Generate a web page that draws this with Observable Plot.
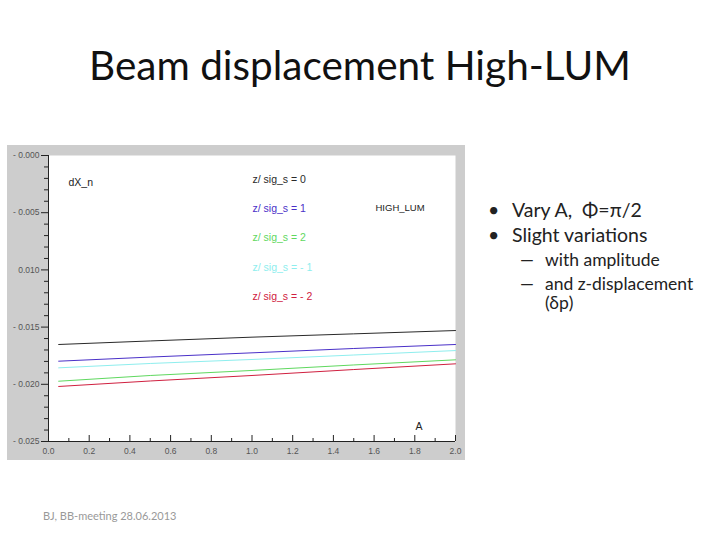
<!DOCTYPE html>
<html>
<head>
<meta charset="utf-8">
<script src="https://cdn.jsdelivr.net/npm/d3@7"></script>
<script src="https://cdn.jsdelivr.net/npm/@observablehq/plot@0.6"></script>
<style>
  html, body { margin: 0; padding: 0; background: #fff; }
  #page { position: relative; width: 720px; height: 540px; overflow: hidden; font-family: Lato, "Open Sans", sans-serif; }
  #title { position: absolute; left: 0; width: 720px; top: 40px; text-align: center; font-size: 40.5px; color: #111; }
  #chart { position: absolute; left: 7px; top: 145px; }
  #bullets { position: absolute; left: 488px; top: 198px; color: #222; }
  .b1 { position: absolute; font-size: 19.5px; white-space: nowrap; }
  .b2 { position: absolute; font-size: 17.5px; white-space: nowrap; }
  #footer { position: absolute; left: 43px; top: 509px; font-size: 11px; color: #999; font-family: Lato, sans-serif; }
</style>
</head>
<body>
<div id="page">
  <div id="title">Beam displacement High-LUM</div>
  <div id="chart"></div>
  <div id="bullets">
    <div class="b1" style="left:0;top:0">•</div><div class="b1" style="left:24px;top:0">Vary A,&nbsp; Φ=π/2</div>
    <div class="b1" style="left:0;top:25px">•</div><div class="b1" style="left:24px;top:25px">Slight variations</div>
    <div class="b2" style="left:32px;top:51px">—</div><div class="b2" style="left:57px;top:51px">with amplitude</div>
    <div class="b2" style="left:32px;top:75px">—</div><div class="b2" style="left:57px;top:75px">and z-displacement</div>
    <div class="b2" style="left:57px;top:94px">(δp)</div>
  </div>
  <div id="footer">BJ, BB-meeting 28.06.2013</div>
</div>
<script>
// ---- data ----
const seriesNames = ["z/ sig_s = 0", "z/ sig_s = 1", "z/ sig_s = 2", "z/ sig_s = - 1", "z/ sig_s = - 2"];
const seriesColors = ["#2a2a2a", "#4a30c8", "#5fd85f", "#8eeeee", "#d02040"];
const ampA = [0.05, 0.5, 1.0, 1.5, 2.0];
const dx0  = [-0.01652, -0.01621, -0.01588, -0.01559, -0.01530];
const dx1  = [-0.01798, -0.01762, -0.01725, -0.01687, -0.01652];
const dx2  = [-0.01973, -0.01923, -0.01879, -0.01831, -0.01786];
const dxm1 = [-0.01856, -0.01818, -0.01783, -0.01744, -0.01705];
const dxm2 = [-0.02019, -0.01971, -0.01923, -0.01871, -0.01821];
const xTickValues = [0, 0.2, 0.4, 0.6, 0.8, 1.0, 1.2, 1.4, 1.6, 1.8, 2.0];
const xTickLabels = ["0.0", "0.2", "0.4", "0.6", "0.8", "1.0", "1.2", "1.4", "1.6", "1.8", "2.0"];
const xMinorValues = [0.1, 0.3, 0.5, 0.7, 0.9, 1.1, 1.3, 1.5, 1.7, 1.9];
const yTickValues = [0, -0.005, -0.010, -0.015, -0.020, -0.025];
const yTickLabels = ["- 0.000", "- 0.005", "0.010", "- 0.015", "- 0.020", "- 0.025"];
const yMinorValues = [-0.001, -0.002, -0.003, -0.004, -0.006, -0.007, -0.008, -0.009,
  -0.011, -0.012, -0.013, -0.014, -0.016, -0.017, -0.018, -0.019, -0.021, -0.022, -0.023, -0.024];

const seriesValues = [dx0, dx1, dx2, dxm1, dxm2];
const rows = [];
seriesNames.forEach((s, i) => ampA.forEach((a, j) => rows.push({series: s, A: a, v: seriesValues[i][j]})));

const W = 458, H = 315;
const mL = 41, mR = 10, mT = 10, mB = 19;
const innerH = H - mT - mB;
const font = "Liberation Sans, Arial, sans-serif";

const chart = Plot.plot({
  width: W, height: H,
  marginLeft: mL, marginRight: mR, marginTop: mT, marginBottom: mB,
  style: {background: "#cdcdcd", fontFamily: font, overflow: "visible"},
  x: {domain: [0, 2], axis: null},
  y: {domain: [-0.025, 0], axis: null},
  color: {domain: seriesNames, range: seriesColors},
  marks: [
    Plot.frame({fill: "white", stroke: null}),
    // y axis (ticks outward)
    Plot.axisY(yTickValues, {anchor: "left", tickSize: 7, tickPadding: 2, stroke: "#222",
      tickFormat: (d) => yTickLabels[yTickValues.indexOf(d)], fontSize: 8.5, fill: "#555", label: null}),
    Plot.axisY(yMinorValues, {anchor: "left", tickSize: 4, stroke: "#222", tickFormat: () => "", label: null}),
    // x axis ticks (inward)
    Plot.tickX(xTickValues, {x: d => d, insetTop: innerH - 6, stroke: "#222"}),
    Plot.tickX(xMinorValues, {x: d => d, insetTop: innerH - 3, stroke: "#222"}),
    Plot.text(xTickValues, {x: d => d, frameAnchor: "bottom", dy: 12, text: (d, i) => xTickLabels[i],
      fontSize: 8.5, fill: "#555"}),
    Plot.ruleX([0], {stroke: "#222"}),
    Plot.ruleY([-0.025], {stroke: "#222"}),
    // curves
    Plot.line(rows, {x: "A", y: "v", z: "series", stroke: "series", strokeWidth: 1}),
    // annotations
    Plot.text(["dX_n"], {frameAnchor: "top-left", dx: 20, dy: 23, fontSize: 10.5, fill: "#222", textAnchor: "start"}),
    ...seriesNames.map((s, i) => Plot.text([s], {frameAnchor: "top-left", dx: 204, dy: 20 + i * 29.2,
      fill: seriesColors[i], fontSize: 10.5, fontWeight: "normal", textAnchor: "start"})),
    Plot.text(["HIGH_LUM"], {frameAnchor: "top-left", dx: 327, dy: 49, fontSize: 9.5, fill: "#222", textAnchor: "start"}),
    Plot.text(["A"], {frameAnchor: "top-left", dx: 367, dy: 267, fontSize: 10.5, fill: "#222", textAnchor: "start"})
  ]
});
document.getElementById("chart").appendChild(chart);
</script>
</body>
</html>
